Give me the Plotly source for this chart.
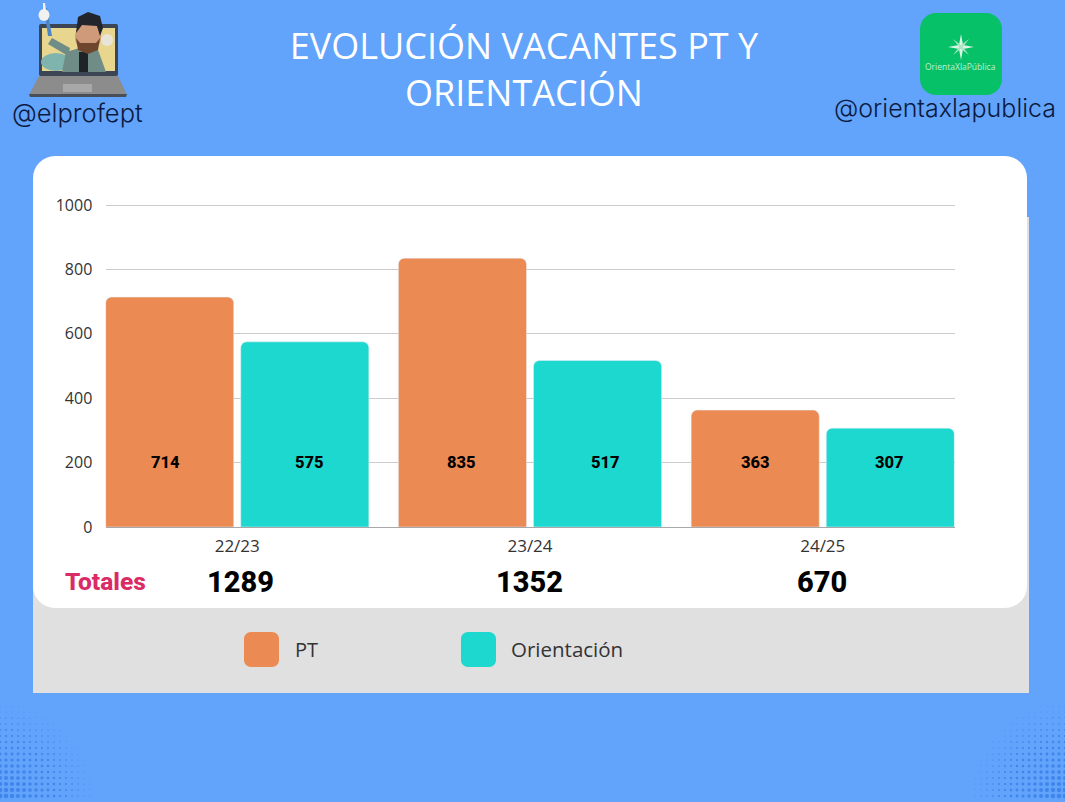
import numpy as np
import plotly.graph_objects as go

# values
cursos = ["22/23", "23/24", "24/25"]
pt = [714, 835, 363]
orientacion = [575, 517, 307]
totales = [1289, 1352, 670]
y_ticks = [0, 200, 400, 600, 800, 1000]

W = 1065
H = 802
BLUE = "#62A3FB"
ORANGE = "#EC8A54"
TEAL = "#1CD8CE"
SANS = "Inter, 'Open Sans', sans-serif"
LABEL = "'Open Sans', sans-serif"
HEAVY = "Roboto, sans-serif"

# the labels in the picture are placed by hand, not centred on the bars
pt_shift = [-72, -69, -67]
orientacion_shift = [72, 75, 67]
total_shift = [3, -1, -1]


# helpers to place the decoration in page pixels
def px(x):
    return x / W


def py(y):
    return 1 - y / H


def rect(x0, y0, x1, y1, color, layer="below"):
    return dict(type="rect", xref="paper", yref="paper", x0=px(x0), x1=px(x1), y0=py(y0), y1=py(y1),
                fillcolor=color, line_width=0, layer=layer)


def poly(points, color, layer="below"):
    d = "M " + " L ".join(f"{px(x):.5f},{py(y):.5f}" for x, y in points) + " Z"
    return dict(type="path", xref="paper", yref="paper", path=d, fillcolor=color, line_width=0, layer=layer)


def rounded(x0, y0, x1, y1, r, color, layer="below"):
    pts = []
    centres = [(x0 + r, y0 + r, 180), (x1 - r, y0 + r, 270), (x1 - r, y1 - r, 0), (x0 + r, y1 - r, 90)]
    for cx, cy, start in centres:
        for a in np.radians(np.linspace(start, start + 90, 9)):
            pts.append((cx + r * np.cos(a), cy + r * np.sin(a)))
    return poly(pts, color, layer)


def ellipse(cx, cy, rx, ry, color):
    return dict(type="circle", xref="paper", yref="paper", x0=px(cx - rx), x1=px(cx + rx), y0=py(cy - ry), y1=py(cy + ry),
                fillcolor=color, line_width=0, layer="below")


def note(x, y, text, size, color, family=LABEL, weight=400, anchor="left"):
    return dict(xref="paper", yref="paper", x=px(x), y=py(y), text=text, showarrow=False, xanchor=anchor, yanchor="middle",
                font=dict(size=size, color=color, family=family, weight=weight))


shapes = [
    rect(33, 217, 1029, 693, "#E0E0E0"),
    rounded(33, 156, 1027, 608, 22, "#FFFFFF"),
    # legend swatches
    rounded(244, 632, 279, 667, 7, ORANGE),
    rounded(461, 632, 496, 667, 7, TEAL),
    # laptop
    poly([(39, 76), (118, 76), (127, 95), (29, 95)], "#8C8C8C"),
    poly([(29, 94), (127, 94), (126, 97), (30, 97)], "#4A4F57"),
    rect(63, 84, 92, 92, "#A8A8A8"),
    rounded(39, 24, 118, 76, 2, "#3B4554"),
    rect(42, 28, 115, 71, "#E9D68E"),
    ellipse(56, 62, 15, 9, "#7FB3AE"),
    ellipse(107, 40, 6, 6, "#E8E4D8"),
    # bitmoji
    poly([(62, 72), (66, 52), (83, 47), (97, 47), (106, 72)], "#6F8C86"),
    rect(79, 52, 88, 72, "#1F2328"),
    poly([(70, 48), (52, 38), (48, 44), (68, 56)], "#6F8C86"),
    poly([(48, 36), (52, 36), (47, 8), (44, 8)], "#4C86C4"),
    ellipse(44, 15, 5.5, 6, "#F1F1F1"),
    poly([(43, 3), (45, 3), (46, 10), (43, 10)], "#F1F1F1"),
    ellipse(88, 37, 13, 15, "#CF9A79"),
    poly([(76, 38), (78, 50), (88, 54), (98, 50), (100, 38), (96, 43), (80, 43)], "#6E4630"),
    poly([(76, 33), (78, 17), (88, 12), (100, 16), (103, 28), (100, 36), (97, 26), (82, 25)], "#22252B"),
    # logo
    rounded(920, 13, 1002, 95, 16, "#06C167"),
    poly([(961, 34), (963, 45), (974, 47), (963, 49), (961, 60), (959, 49), (948, 47), (959, 45)], "#DDF5E6"),
    poly([(953, 39), (962, 46), (969, 55), (960, 48)], "#A9E6C2"),
    poly([(969, 39), (962, 48), (953, 55), (960, 46)], "#A9E6C2"),
]

annotations = [
    note(10, 113, "@elprofept", 25.5, "#0B1A40", SANS, 300),
    note(832, 108, "@orientaxlapublica", 25, "#0B1A40", SANS, 300),
    note(961, 67, "OrientaXlaPública", 8.5, "#BFEFD2", LABEL, anchor="center"),
    note(63, 581, "Totales", 24.5, "#D92B66", HEAVY, 800),
    note(293, 649, "PT", 20, "#333333"),
    note(509, 649, "Orientación", 20.5, "#333333"),
]

# bar labels sit on the 200 line, totals under the axis
label_font = dict(size=16.5, color="#000000", family=HEAVY, weight=800)
for i, curso in enumerate(cursos):
    annotations.append(dict(x=curso, y=200, xref="x", yref="y", xshift=pt_shift[i], text=str(pt[i]), showarrow=False, font=label_font))
    annotations.append(dict(x=curso, y=200, xref="x", yref="y", xshift=orientacion_shift[i], text=str(orientacion[i]), showarrow=False, font=label_font))
    annotations.append(dict(x=curso, xref="x", yref="paper", y=py(582), xshift=total_shift[i], text=str(totales[i]), showarrow=False, yanchor="middle",
                            font=dict(size=29, color="#000000", family=HEAVY, weight=800)))

# halftone corners
gx, gy = np.meshgrid(np.arange(0, 100, 6.0), np.arange(700, 802, 6.0))
gx = gx.ravel()
gy = gy.ravel()
dist = np.hypot(gx / 95, (802 - gy) / 100)
keep = dist < 1
dot_size = 4.5 * (1 - dist[keep]) + 0.6
dot_x = np.concatenate([gx[keep], W - gx[keep]])
dot_y = np.concatenate([gy[keep], gy[keep]])
dot_s = np.concatenate([dot_size, dot_size])

fig = go.Figure()
fig.add_trace(go.Bar(x=cursos, y=pt, name="PT", marker_color=ORANGE, hoverinfo="y"))
fig.add_trace(go.Bar(x=cursos, y=orientacion, name="Orientación", marker_color=TEAL, hoverinfo="y"))
fig.add_trace(go.Scatter(x=dot_x, y=dot_y, xaxis="x2", yaxis="y2", mode="markers", hoverinfo="skip",
                         marker=dict(size=dot_s, color="#2F78E6", opacity=0.7, line_width=0)))

fig.update_layout(
    width=W,
    height=H,
    margin=dict(l=0, r=0, t=0, b=0),
    paper_bgcolor=BLUE,
    plot_bgcolor="rgba(0,0,0,0)",
    showlegend=False,
    barmode="group",
    bargap=0.077,
    bargroupgap=0.052,
    barcornerradius=6,
    title=dict(text="EVOLUCIÓN VACANTES PT Y<br>ORIENTACIÓN", x=524 / W, xanchor="center", y=py(59), yanchor="middle",
               font=dict(size=36, color="#FFFFFF", family=LABEL, weight=500)),
    xaxis=dict(domain=[px(105.5), px(954.5)], range=[-0.45, 2.45], type="category", showgrid=False, showline=True, automargin=False,
               linecolor="#A8A8A8", ticks="outside", ticklen=4, tickcolor="rgba(0,0,0,0)",
               tickfont=dict(size=17, color="#333333", family=LABEL)),
    yaxis=dict(domain=[py(527), py(203.4)], range=[0, 1005], tickvals=y_ticks, gridcolor="#CCCCCC", zeroline=False, automargin=False,
               ticks="outside", ticklen=9, tickcolor="rgba(0,0,0,0)",
               tickfont=dict(size=16, color="#333333", family=LABEL)),
    xaxis2=dict(domain=[0, 1], range=[0, W], visible=False, anchor="y2", automargin=False),
    yaxis2=dict(domain=[0, 1], range=[H, 0], visible=False, anchor="x2", automargin=False),
    shapes=shapes,
    annotations=annotations,
)

fig.write_html("out.html", config=dict(displayModeBar=False),
               post_script="document.body.style.margin='0';document.body.style.overflow='hidden';")
